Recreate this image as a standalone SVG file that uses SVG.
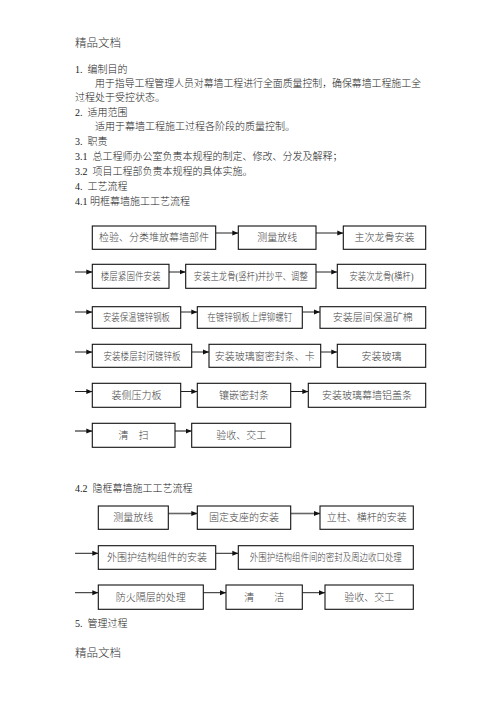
<svg xmlns="http://www.w3.org/2000/svg" width="496" height="702" viewBox="0 0 496 702">
<defs>
<style>
.t{font-family:"Liberation Serif","Noto Sans CJK SC",serif;font-size:10px;fill:#222;font-weight:300}
.h{font-family:"Liberation Serif","Noto Sans CJK SC",serif;font-size:11.5px;fill:#333;font-weight:300}
.b rect{fill:#fff;stroke:#111;stroke-width:1.1}
.b text{font-family:"Liberation Serif","Noto Sans CJK SC",serif;font-size:10px;fill:#444;text-anchor:middle;font-weight:300}
.c line{stroke:#222;stroke-width:1;marker-end:url(#ah)}
.c line.g{stroke:#666;stroke-width:1.6}
</style>
<marker id="ah" viewBox="0 0 6 6" refX="6" refY="3" markerWidth="6" markerHeight="6" markerUnits="userSpaceOnUse" orient="auto">
<path d="M0,0.5 L6,3 L0,5.5 Z" fill="#111"/>
</marker>
</defs>
<rect width="496" height="702" fill="#fff"/>
<g id="text">
<text class="h" x="75" y="47">精品文档</text>
<text class="t" x="75" y="73" xml:space="preserve">1.  编制目的</text>
<text class="t" x="95" y="87" textLength="326" lengthAdjust="spacingAndGlyphs">用于指导工程管理人员对幕墙工程进行全面质量控制，确保幕墙工程施工全</text>
<text class="t" x="75" y="101">过程处于受控状态。</text>
<text class="t" x="75" y="115.5" xml:space="preserve">2.  适用范围</text>
<text class="t" x="95" y="130">适用于幕墙工程施工过程各阶段的质量控制。</text>
<text class="t" x="75" y="144.5" xml:space="preserve">3.  职责</text>
<text class="t" x="75" y="159.5" xml:space="preserve">3.1  总工程师办公室负责本规程的制定、修改、分发及解释；</text>
<text class="t" x="75" y="175" xml:space="preserve">3.2  项目工程部负责本规程的具体实施。</text>
<text class="t" x="75" y="189.5" xml:space="preserve">4.  工艺流程</text>
<text class="t" x="75" y="205">4.1 明框幕墙施工工艺流程</text>
<text class="t" x="75" y="492" xml:space="preserve">4.2  隐框幕墙施工工艺流程</text>
<text class="t" x="75" y="627" xml:space="preserve">5.  管理过程</text>
<text class="h" x="75" y="657">精品文档</text>
</g>
<g id="connectors" class="c">
<line x1="215.7" y1="233" x2="238.3" y2="233"/>
<line x1="316" y1="233" x2="343.3" y2="233"/>
<line x1="75" y1="272" x2="92.3" y2="272"/>
<line x1="169" y1="272" x2="185.7" y2="272"/>
<line x1="316" y1="272" x2="337.3" y2="272"/>
<line x1="75" y1="312" x2="92.3" y2="312"/>
<line x1="180.7" y1="312" x2="197.3" y2="312"/>
<line x1="302.3" y1="312" x2="320" y2="312"/>
<line x1="75" y1="352" x2="92.3" y2="352"/>
<line x1="191.7" y1="352" x2="209" y2="352"/>
<line x1="320.7" y1="352" x2="337.3" y2="352"/>
<line x1="75" y1="391.5" x2="92.3" y2="391.5"/>
<line x1="180.7" y1="391.5" x2="197.3" y2="391.5"/>
<line x1="290.7" y1="391.5" x2="308.3" y2="391.5"/>
<line class="g" x1="75" y1="431" x2="92.3" y2="431"/>
<line class="g" x1="175" y1="431" x2="191.7" y2="431"/>
<line class="g" x1="168.3" y1="513.5" x2="197.3" y2="513.5"/>
<line class="g" x1="290.7" y1="513.5" x2="320" y2="513.5"/>
<line x1="75" y1="553.3" x2="98.3" y2="553.3"/>
<line x1="215.7" y1="553.3" x2="238.3" y2="553.3"/>
<line x1="75" y1="592.7" x2="98.3" y2="592.7"/>
<line x1="203.3" y1="592.7" x2="226" y2="592.7"/>
<line x1="302.3" y1="592.7" x2="325" y2="592.7"/>
</g>
<g id="n1" class="b"><rect x="92.3" y="226" width="123.4" height="23.3"/><text x="154" y="241">检验、分类堆放幕墙部件</text></g>
<g id="n2" class="b"><rect x="238.3" y="226" width="77.7" height="23.3"/><text x="277.2" y="241">测量放线</text></g>
<g id="n3" class="b"><rect x="343.3" y="226" width="82.4" height="23.3"/><text x="384.5" y="241">主次龙骨安装</text></g>
<g id="n4" class="b"><rect x="92.3" y="264.3" width="76.7" height="24"/><text x="130.7" y="280" textLength="60" lengthAdjust="spacingAndGlyphs">楼层紧固件安装</text></g>
<g id="n5" class="b"><rect x="185.7" y="264.3" width="130.3" height="24"/><text x="250.8" y="280" textLength="114" lengthAdjust="spacingAndGlyphs">安装主龙骨(竖杆)并抄平、调整</text></g>
<g id="n6" class="b"><rect x="337.3" y="264.3" width="88.4" height="24"/><text x="381.5" y="280" textLength="64" lengthAdjust="spacingAndGlyphs">安装次龙骨(横杆)</text></g>
<g id="n7" class="b"><rect x="92.3" y="306.7" width="88.4" height="21.6"/><text x="136.5" y="321" textLength="67" lengthAdjust="spacingAndGlyphs">安装保温镀锌钢板</text></g>
<g id="n8" class="b"><rect x="197.3" y="306.7" width="105" height="21.6"/><text x="249.8" y="321" textLength="85" lengthAdjust="spacingAndGlyphs">在镀锌钢板上焊铆螺钉</text></g>
<g id="n9" class="b"><rect x="320" y="306.7" width="105.7" height="21.6"/><text x="372.8" y="321">安装层间保温矿棉</text></g>
<g id="n10" class="b"><rect x="92.3" y="344.3" width="99.4" height="23"/><text x="142" y="359.5" textLength="77" lengthAdjust="spacingAndGlyphs">安装楼层封闭镀锌板</text></g>
<g id="n11" class="b"><rect x="209" y="344.3" width="111.7" height="23"/><text x="264.8" y="359.5">安装玻璃窗密封条、卡</text></g>
<g id="n12" class="b"><rect x="337.3" y="344.3" width="88.4" height="23"/><text x="381.5" y="359.5">安装玻璃</text></g>
<g id="n13" class="b"><rect x="92.3" y="383.3" width="88.4" height="24"/><text x="136.5" y="399">装侧压力板</text></g>
<g id="n14" class="b"><rect x="197.3" y="383.3" width="93.4" height="24"/><text x="244" y="399">镶嵌密封条</text></g>
<g id="n15" class="b"><rect x="308.3" y="383.3" width="117.4" height="24"/><text x="367" y="399">安装玻璃幕墙铝盖条</text></g>
<g id="n16" class="b"><rect x="92.3" y="423.3" width="82.7" height="24"/><text x="133.6" y="439">清　扫</text></g>
<g id="n17" class="b"><rect x="191.7" y="423.3" width="99" height="24"/><text x="241.2" y="439">验收、交工</text></g>
<g id="m1" class="b"><rect x="98.3" y="506" width="70" height="23.3"/><text x="133.3" y="521">测量放线</text></g>
<g id="m2" class="b"><rect x="197.3" y="506" width="93.4" height="23.3"/><text x="244" y="521">固定支座的安装</text></g>
<g id="m3" class="b"><rect x="320" y="506" width="93.3" height="23.3"/><text x="366.7" y="521">立柱、横杆的安装</text></g>
<g id="m4" class="b"><rect x="98.3" y="545.7" width="117.4" height="23.6"/><text x="157" y="561">外围护结构组件的安装</text></g>
<g id="m5" class="b"><rect x="238.3" y="545.7" width="175" height="23.6"/><text x="325.8" y="561" textLength="152" lengthAdjust="spacingAndGlyphs">外围护结构组件间的密封及周边收口处理</text></g>
<g id="m6" class="b"><rect x="98.3" y="585" width="105" height="24.3"/><text x="150.8" y="600.7">防火隔层的处理</text></g>
<g id="m7" class="b"><rect x="226" y="585" width="76.3" height="24.3"/><text x="264.2" y="600.7">清　　洁</text></g>
<g id="m8" class="b"><rect x="325" y="585" width="88.3" height="24.3"/><text x="369.2" y="600.7">验收、交工</text></g>
</svg>
